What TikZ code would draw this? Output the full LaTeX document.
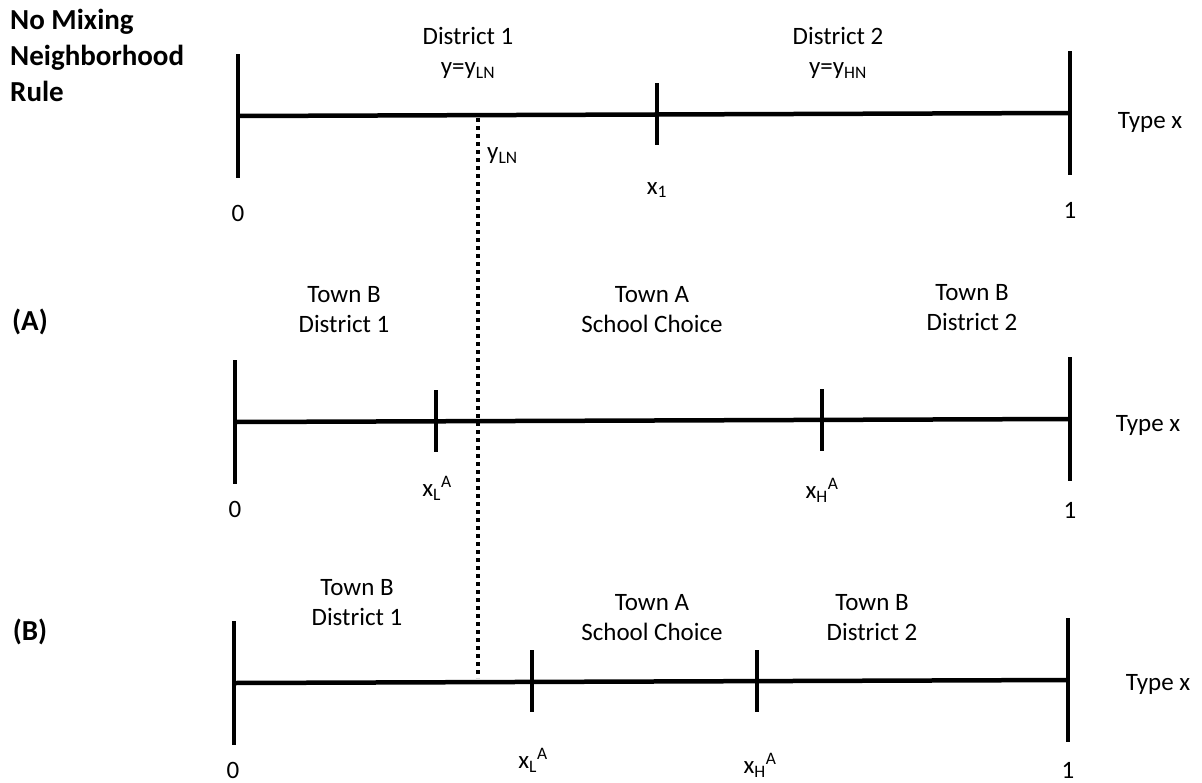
\documentclass[tikz,border=0pt]{standalone}
\usepackage{fontspec}
\setmainfont{Carlito}
\begin{document}
\begin{tikzpicture}[x=1pt,y=-1pt,
    axis/.style={line width=4.5pt},
    cut/.style={line width=4pt, dash pattern=on 4pt off 4pt},
    lbl/.style={inner sep=0pt, align=center, font=\fontsize{25}{30}\selectfont},
    head/.style={inner sep=0pt, align=left, font=\fontsize{29}{36}\selectfont\bfseries}]
    \useasboundingbox (0,0) rectangle (1202,782);
    % Titel und Zeilenmarken
    \node at (10,9) (title) [head, anchor=north west] {No Mixing\\Neighborhood\\Rule};
    \node at (30,322) (markA) [head] {(A)};
    \node at (30,632) (markB) [head] {(B)};
    % Erste Linie - No Mixing
    \coordinate (a0) at (238,116);
    \coordinate (a1) at (1070,113);
    \coordinate (ax) at (657,114);
    \draw[axis] (a0) -- (a1);
    \draw[axis] ([yshift=62pt]a0) -- ([yshift=-62pt]a0);
    \draw[axis] ([yshift=62pt]a1) -- ([yshift=-62pt]a1);
    \draw[axis] ([yshift=31pt]ax) -- ([yshift=-31pt]ax);
    \node at (468,53) (dist1) [lbl] {District 1\\y=y\textsubscript{LN}};
    \node at (838,53) (dist2) [lbl] {District 2\\y=y\textsubscript{HN}};
    \node at (238,213) (a0lbl) [lbl] {0};
    \node at (1070,210) (a1lbl) [lbl] {1};
    \node at (657,190) (axlbl) [lbl] {x\textsubscript{1}};
    \node at (487,156) (ylbl) [lbl, anchor=west] {y\textsubscript{LN}};
    \node at (1150,122) (atype) [lbl] {Type x};
    % Zweite Linie - (A)
    \coordinate (b0) at (235,422);
    \coordinate (b1) at (1070,419);
    \coordinate (bL) at (436,421);
    \coordinate (bH) at (822,420);
    \draw[axis] (b0) -- (b1);
    \draw[axis] ([yshift=62pt]b0) -- ([yshift=-62pt]b0);
    \draw[axis] ([yshift=62pt]b1) -- ([yshift=-62pt]b1);
    \draw[axis] ([yshift=31pt]bL) -- ([yshift=-31pt]bL);
    \draw[axis] ([yshift=31pt]bH) -- ([yshift=-31pt]bH);
    \node at (344,310) (btownB1) [lbl] {Town B\\District 1};
    \node at (652,310) (btownA) [lbl] {Town A\\School Choice};
    \node at (972,308) (btownB2) [lbl] {Town B\\District 2};
    \node at (235,509) (b0lbl) [lbl] {0};
    \node at (1070,510) (b1lbl) [lbl] {1};
    \node at (437,488) (bLlbl) [lbl] {x\textsubscript{L}\textsuperscript{A}};
    \node at (822,490) (bHlbl) [lbl] {x\textsubscript{H}\textsuperscript{A}};
    \node at (1148,425) (btype) [lbl] {Type x};
    % Dritte Linie - (B)
    \coordinate (c0) at (234,683);
    \coordinate (c1) at (1068,680);
    \coordinate (cL) at (532,681);
    \coordinate (cH) at (757,681);
    \draw[axis] (c0) -- (c1);
    \draw[axis] ([yshift=62pt]c0) -- ([yshift=-62pt]c0);
    \draw[axis] ([yshift=62pt]c1) -- ([yshift=-62pt]c1);
    \draw[axis] ([yshift=31pt]cL) -- ([yshift=-31pt]cL);
    \draw[axis] ([yshift=31pt]cH) -- ([yshift=-31pt]cH);
    \node at (357,603) (ctownB1) [lbl] {Town B\\District 1};
    \node at (652,618) (ctownA) [lbl] {Town A\\School Choice};
    \node at (872,618) (ctownB2) [lbl] {Town B\\District 2};
    \node at (233,770) (c0lbl) [lbl] {0};
    \node at (1068,770) (c1lbl) [lbl] {1};
    \node at (533,760) (cLlbl) [lbl] {x\textsubscript{L}\textsuperscript{A}};
    \node at (760,765) (cHlbl) [lbl] {x\textsubscript{H}\textsuperscript{A}};
    \node at (1158,684) (ctype) [lbl] {Type x};
    % gepunktete Linie bei y_LN
    \coordinate (dtop) at (478,118);
    \coordinate (dbot) at (478,678);
    \draw[cut] (dtop) -- (dbot);
\end{tikzpicture}
\end{document}
